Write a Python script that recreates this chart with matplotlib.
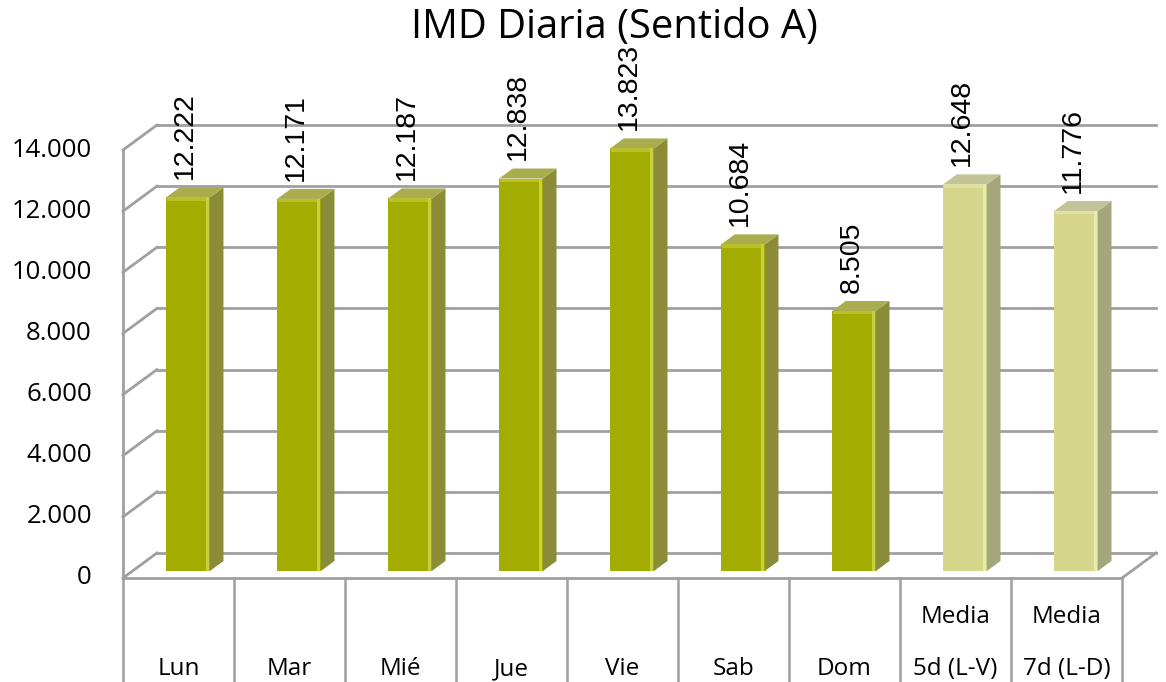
import matplotlib.pyplot as plt
from matplotlib.patches import Polygon

# datos de la IMD diaria
categorias = ["Lun", "Mar", "Mié", "Jue", "Vie", "Sab", "Dom",
              "Media\n5d (L-V)", "Media\n7d (L-D)"]
imd = [12222, 12171, 12187, 12838, 13823, 10684, 8505, 12648, 11776]
es_media = [False] * 7 + [True, True]
ticks_y = [0, 2000, 4000, 6000, 8000, 10000, 12000, 14000]

# colores (frente, lateral, techo, brillo)
COL_DIA = ("#A3AC00", "#8A8C38", "#A9AD4E", "#C9D040")
COL_MEDIA = ("#D5D68C", "#A6A67C", "#C3C398", "#E9EAAE")
GRID = "#A0A0A0"

# profundidad de la "caja" 3D en unidades de datos
DX = 0.306
DY = 818
F0, F1 = 0.28, 0.68   # profundidad de cara frontal / trasera de la barra
HW = 0.197            # media anchura de barra


def fmt(v):
    return f"{v:,}".replace(",", ".")


def dibuja_barra(ax, c, v, colores):
    frente, lateral, techo, brillo = colores
    x0, x1 = c - HW + F0 * DX, c + HW + F0 * DX
    y0 = F0 * DY
    ox, oy = (F1 - F0) * DX, (F1 - F0) * DY
    ax.add_patch(Polygon([(x0, y0), (x1, y0), (x1, v + y0), (x0, v + y0)],
                         closed=True, fc=frente, ec="none", zorder=3))
    # brillo junto a la arista derecha y bajo el techo
    ax.add_patch(Polygon([(x1 - 0.035, y0), (x1 - 0.012, y0),
                          (x1 - 0.012, v + y0), (x1 - 0.035, v + y0)],
                         closed=True, fc=brillo, ec="none", zorder=3.1))
    ax.add_patch(Polygon([(x0 + 0.01, v + y0 - 110), (x1 - 0.012, v + y0 - 110),
                          (x1 - 0.012, v + y0), (x0 + 0.01, v + y0)],
                         closed=True, fc=brillo, ec="none", alpha=0.6, zorder=3.1))
    ax.add_patch(Polygon([(x1, y0), (x1 + ox, y0 + oy),
                          (x1 + ox, v + y0 + oy), (x1, v + y0)],
                         closed=True, fc=lateral, ec="none", zorder=3))
    ax.add_patch(Polygon([(x0, v + y0), (x0 + ox, v + y0 + oy),
                          (x1 + ox, v + y0 + oy), (x1, v + y0)],
                         closed=True, fc=techo, ec="none", zorder=3))
    ax.text(c + F0 * DX - 0.025, v + F1 * DY + 270, fmt(v), rotation=90,
            ha="center", va="bottom", fontsize=20.5,
            family="Liberation Sans", zorder=4)


def main() -> None:
    fig = plt.figure(figsize=(11.66, 6.82), dpi=100)
    ax = fig.add_axes([0, 0, 1, 1])
    ax.set_xlim(-1.608, 8.896)
    ax.set_ylim(-3402, 18907)
    ax.axis("off")

    n = len(categorias)
    xl, xr = -0.5, n - 0.5

    # pared trasera y lateral con líneas de rejilla
    for t in ticks_y:
        ax.plot([xl + DX, xr + DX], [t + DY, t + DY], color=GRID, lw=2, zorder=1)
        ax.plot([xl, xl + DX], [t, t + DY], color=GRID, lw=2, zorder=1)
        ax.text(xl - 0.28, t, fmt(t), ha="right", va="center",
                fontsize=18.5, family="Open Sans")
    ax.plot([xl, xl], [0, ticks_y[-1]], color=GRID, lw=2, zorder=1)

    # suelo
    ax.plot([xl, xr], [0, 0], color=GRID, lw=2, zorder=1)
    ax.plot([xr, xr + DX], [0, DY], color=GRID, lw=2, zorder=1)

    # tabla de categorías
    for k in range(n + 1):
        ax.plot([xl + k, xl + k], [0, -3402], color=GRID, lw=1.8, zorder=1)
    for i, cat in enumerate(categorias):
        lineas = cat.split("\n")
        for j, linea in enumerate(reversed(lineas)):
            ax.text(i, -3173 + j * 1701, linea, ha="center", va="baseline",
                    fontsize=17.5, family="Open Sans")

    for i, v in enumerate(imd):
        dibuja_barra(ax, i, v, COL_MEDIA if es_media[i] else COL_DIA)

    fig.text(614 / 1166, 1 - 28 / 682, "IMD Diaria (Sentido A)",
             ha="center", va="center", fontsize=28.7, family="Open Sans")

    fig.savefig("out.png", dpi=100)


if __name__ == "__main__":
    main()
